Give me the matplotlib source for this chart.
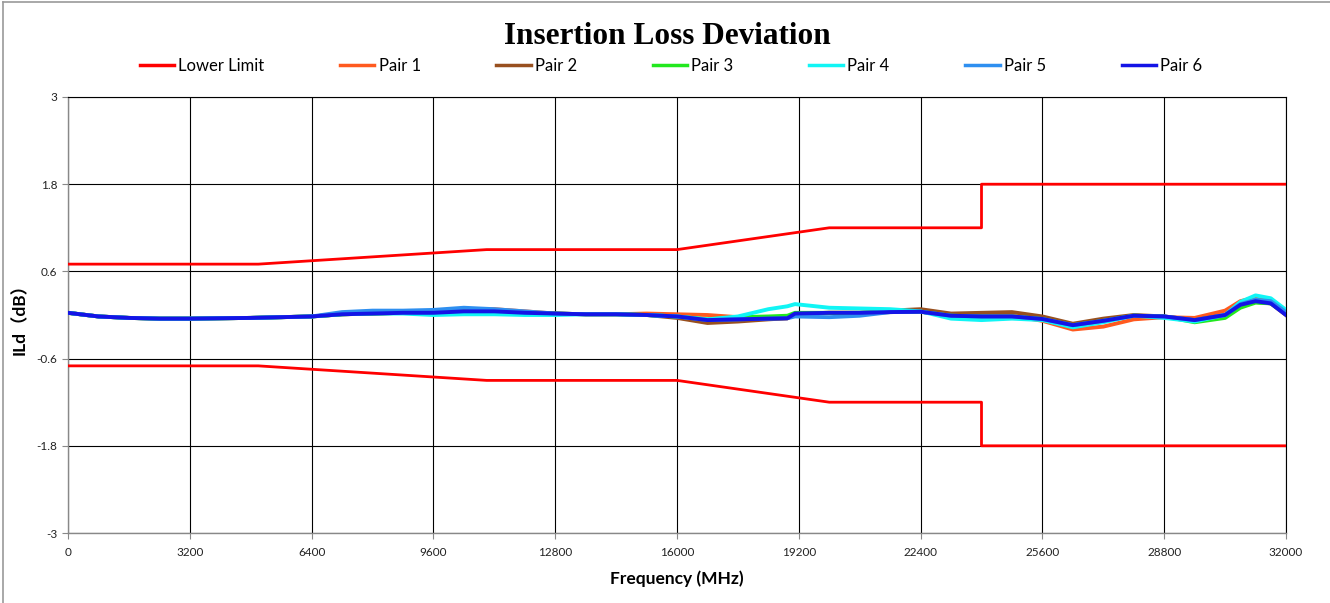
import matplotlib
matplotlib.use("Agg")
import matplotlib.pyplot as plt
from matplotlib.lines import Line2D

# frequency points (MHz) the curves were read at
freq = [0, 800, 1600, 2400, 3200, 4000, 4800, 5600, 6400, 7200, 8000,
        8800, 9600, 10400, 11200, 12000, 12800, 13600, 14400, 15200, 16000,
        16800, 17600, 18400, 18900, 19100, 20000, 20800, 21600, 22400, 23200,
        24000, 24800, 25600, 26400, 27200, 28000, 28800, 29600, 30400, 30800,
        31200, 31600, 32000]

pair6 = [0.03, -0.02, -0.04, -0.05, -0.05, -0.045, -0.04, -0.03, -0.02, 0.01, 0.02,
         0.03, 0.03, 0.05, 0.05, 0.03, 0.02, 0.01, 0.01, 0.0, -0.02,
         -0.07, -0.06, -0.05, -0.045, 0.02, 0.03, 0.03, 0.04, 0.045, -0.01,
         -0.02, -0.02, -0.055, -0.14, -0.08, -0.01, -0.02, -0.07, 0.0, 0.14,
         0.19, 0.16, 0.0]
pair1 = [0.03, -0.02, -0.04, -0.05, -0.05, -0.045, -0.04, -0.03, -0.02, 0.01, 0.02,
         0.03, 0.04, 0.07, 0.08, 0.05, 0.02, 0.01, 0.01, 0.02, 0.01,
         0.0, -0.03, -0.05, -0.045, 0.02, 0.03, 0.03, 0.04, 0.045, -0.01,
         -0.02, -0.01, -0.08, -0.2, -0.16, -0.06, -0.03, -0.04, 0.06, 0.19,
         0.24, 0.19, 0.03]
pair2 = [0.03, -0.02, -0.04, -0.05, -0.05, -0.045, -0.04, -0.03, -0.02, 0.01, 0.02,
         0.03, 0.03, 0.05, 0.05, 0.03, 0.02, 0.01, 0.01, 0.0, -0.04,
         -0.11, -0.09, -0.06, -0.045, 0.02, 0.03, 0.03, 0.06, 0.08, 0.02,
         0.03, 0.04, -0.02, -0.12, -0.05, 0.0, -0.02, -0.07, 0.0, 0.13,
         0.18, 0.16, 0.0]
pair3 = [0.03, -0.02, -0.04, -0.05, -0.05, -0.045, -0.04, -0.03, -0.02, 0.01, 0.02,
         0.03, 0.03, 0.05, 0.05, 0.03, 0.02, 0.01, 0.01, 0.0, -0.02,
         -0.06, -0.03, -0.02, -0.01, 0.03, 0.03, 0.03, 0.04, 0.045, -0.01,
         -0.02, -0.02, -0.055, -0.14, -0.08, -0.01, -0.02, -0.1, -0.04, 0.1,
         0.17, 0.16, 0.02]
pair4 = [0.03, -0.02, -0.04, -0.05, -0.05, -0.045, -0.04, -0.03, -0.02, 0.01, 0.02,
         0.02, 0.0, 0.01, 0.01, 0.0, 0.0, 0.01, 0.01, 0.0, -0.02,
         -0.06, -0.02, 0.08, 0.12, 0.15, 0.1, 0.09, 0.08, 0.05, -0.05,
         -0.07, -0.05, -0.07, -0.17, -0.1, -0.01, -0.04, -0.09, 0.0, 0.18,
         0.27, 0.23, 0.07]
pair5 = [0.03, -0.02, -0.04, -0.05, -0.05, -0.045, -0.04, -0.03, -0.02, 0.04, 0.06,
         0.06, 0.07, 0.1, 0.08, 0.05, 0.02, 0.01, 0.01, 0.0, -0.02,
         -0.07, -0.06, -0.05, -0.045, -0.02, -0.03, -0.01, 0.04, 0.045, -0.01,
         -0.02, -0.02, -0.055, -0.14, -0.08, -0.01, -0.02, -0.07, 0.0, 0.15,
         0.21, 0.19, 0.04]

# limit lines
limit_freq = [0, 5000, 11000, 16000, 20000, 24000, 24000, 32000]
upper_limit = [0.7, 0.7, 0.9, 0.9, 1.2, 1.2, 1.8, 1.8]
lower_limit = [-0.7, -0.7, -0.9, -0.9, -1.2, -1.2, -1.8, -1.8]

pair_names = ["Pair 1", "Pair 2", "Pair 3", "Pair 4", "Pair 5", "Pair 6"]
pair_colors = ["#FF5A1F", "#98501F", "#22E81E", "#11F5F5", "#2E8FF0", "#1414E6"]
pairs = [pair1, pair2, pair3, pair4, pair5, pair6]

xticks = [0, 3200, 6400, 9600, 12800, 16000, 19200, 22400, 25600, 28800, 32000]
yticks = [-3, -1.8, -0.6, 0.6, 1.8, 3]
ytick_labels = ["-3", "-1.8", "-0.6", "0.6", "1.8", "3"]

sans = ["Lato", "DejaVu Sans"]
plt.rcParams['font.family'] = sans

fig = plt.figure(figsize=(13.3, 6.03), dpi=100)
ax = fig.add_axes([68/1330, 1-533/603, (1286-68)/1330, (533-97)/603])

ax.plot(limit_freq, upper_limit, color="#FF0000", lw=2.0, zorder=3)
for vals, name, col in zip(pairs, pair_names, pair_colors):
    ax.plot(freq, vals, color=col, lw=2.8, zorder=4, label=name)
ax.plot(limit_freq, lower_limit, color="#FF0000", lw=2.0, zorder=3)

ax.set_xlim(0, 32000)
ax.set_ylim(-3, 3)
ax.set_xticks(xticks)
ax.set_xticklabels([str(t) for t in xticks])
ax.set_yticks(yticks)
ax.set_yticklabels(ytick_labels)
ax.tick_params(direction='out', length=4, width=0.8, color="#888888",
               labelsize=8.5, labelcolor="#222222")
ax.tick_params(axis='x', pad=6)
ax.grid(True, color="#000000", lw=0.8)
ax.set_axisbelow(True)
for s in ['left', 'bottom']:
    ax.spines[s].set_color("#888888")
    ax.spines[s].set_linewidth(1.0)
for s in ['top', 'right']:
    ax.spines[s].set_color("#000000")
    ax.spines[s].set_linewidth(0.8)

ax.set_xlabel("Frequency (MHz)", fontsize=12.5, fontweight='bold', labelpad=9)
ax.set_ylabel("ILd（dB）", fontsize=12.5, fontweight='bold', labelpad=6,
              family=["Lato", "Noto Sans CJK SC"])

fig.text(0.502, 1-36/603, "Insertion Loss Deviation", ha='center', va='center',
         family="Liberation Serif", fontweight='bold', fontsize=22.5)

handles = [Line2D([], [], color="#FF0000", lw=2.5)]
handles += [Line2D([], [], color=c, lw=2.5) for c in pair_colors]
labels = ["Lower Limit"] + pair_names
fig.legend(handles, labels, loc='center', bbox_to_anchor=(0.5045, 1-66/603),
           ncol=7, frameon=False, fontsize=12, handlelength=2.05,
           handletextpad=0.25, columnspacing=4.55)

# grey frame on left and top edges
fig.add_artist(Line2D([3/1330, 3/1330], [0, 1-2/603], color="#999999", lw=1.2,
                      transform=fig.transFigure))
fig.add_artist(Line2D([3/1330, 1], [1-2/603, 1-2/603], color="#999999", lw=1.2,
                      transform=fig.transFigure))

fig.savefig("out.png", dpi=100)
